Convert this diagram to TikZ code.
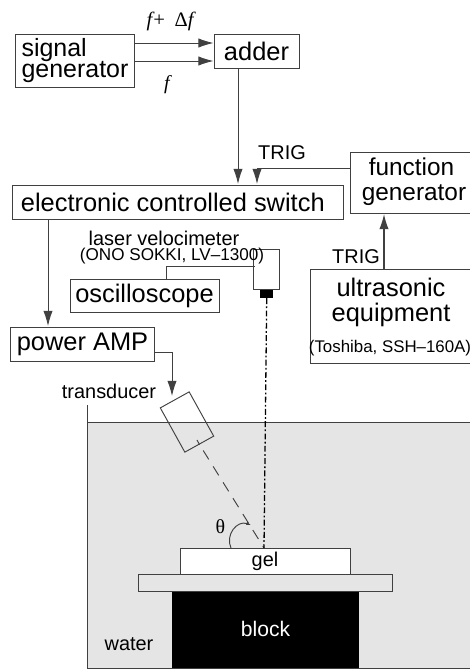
\documentclass[tikz,border=0pt]{standalone}
\usepackage{fontspec}
\setmainfont{Liberation Sans}
\newfontfamily\serifgreek{Liberation Serif}
\usetikzlibrary{arrows.meta,calc}
\newcommand\bigtext{\fontsize{21.7}{22}\selectfont}
\newcommand\tighttext{\fontsize{21.3}{18.5}\selectfont}
\newcommand\midtext{\fontsize{17}{18}\selectfont}
\newcommand\smalltext{\fontsize{14.4}{15}\selectfont}
\definecolor{linegray}{gray}{0.25}
\definecolor{watergray}{gray}{0.9}
\tikzset{
  panel/.style={draw=linegray,line width=0.8pt,inner sep=0pt,align=center,font=\bigtext},
  caption/.style={inner sep=0pt,font=\midtext},
  wire/.style={draw=linegray,line width=0.8pt},
  sig/.style={wire,-{Latex[length=13pt,width=8pt]}}
}
\begin{document}
\begin{tikzpicture}[x=0.3mm,y=-0.3mm]
\useasboundingbox (0,0) rectangle (470,669);
\fill[watergray] (87,422) rectangle (480,668);
\draw[wire] (87,405) -- (87,668) -- (480,668);
\draw[wire] (87,422) -- (480,422);
\node[panel,minimum width=119*0.3mm,minimum height=53*0.3mm,align=left,font=\tighttext] (siggen) at (75,60.5) {signal\\generator};
\node[panel,minimum width=85*0.3mm,minimum height=34*0.3mm] (adder) at (256.5,51) {adder};
\node[panel,minimum width=331*0.3mm,minimum height=34*0.3mm] (switch) at (177.5,202) {electronic controlled switch\kern 8pt};
\node[panel,minimum width=130*0.3mm,minimum height=61*0.3mm] (funcgen) at (415,182.5) {};
\node[inner sep=0pt,font=\fontsize{20.8}{22}\selectfont] (funcone) at (411.5,167) {function};
\node[inner sep=0pt,font=\fontsize{20.8}{22}\selectfont] (functwo) at (414,195) {generator};
\node[panel,minimum width=149*0.3mm,minimum height=32.5*0.3mm] (scope) at (144.5,296) {oscilloscope};
\node[panel,minimum width=144*0.3mm,minimum height=34*0.3mm] (amp) at (82.5,344) {power AMP};
\node[panel,minimum width=170*0.3mm,minimum height=93.5*0.3mm] (ultra) at (395,316.5) {};
\node[inner sep=0pt,font=\bigtext] (ultraone) at (391,287) {ultrasonic};
\node[inner sep=0pt,font=\bigtext] (ultratwo) at (391,315) {equipment};
\node[inner sep=0pt,font=\smalltext] (ultrathree) at (390,348) {(Toshiba, SSH--160A)};
\node[panel,minimum width=26.5*0.3mm,minimum height=40.5*0.3mm] (laser) at (266.7,269.7) {};
\node[fill=black,inner sep=0pt,minimum width=13.5*0.3mm,minimum height=8*0.3mm] (tip) at (266.7,294) {};
\node[caption] (lasername) at (164,238) {laser velocimeter};
\node[inner sep=0pt,font=\fontsize{14.6}{16}\selectfont] (lasermodel) at (172,256) {(ONO SOKKI, LV--1300)};
\node[caption] (trigone) at (282,153) {TRIG};
\node[caption] (trigtwo) at (356,257) {TRIG};
\node[caption] (xducername) at (109,391) {transducer};
\node[inner sep=0pt,font=\serifgreek\fontsize{17.5}{18}\selectfont\itshape] (fplus) at (170,21) {f+ \,{\upshape Δ}f};
\node[inner sep=0pt,font=\serifgreek\fontsize{17}{18}\selectfont\itshape] (fplain) at (167,85) {f};
\node[draw=linegray,line width=0.8pt,rotate=29,inner sep=0pt,minimum width=33*0.3mm,minimum height=50.6*0.3mm] (xducer) at (187,422) {};
\node[draw=linegray,line width=0.8pt,fill=white,inner sep=0pt,minimum width=170*0.3mm,minimum height=25.5*0.3mm,font=\midtext] (gel) at (265,561.7) {gel};
\node[draw=linegray,line width=0.8pt,inner sep=0pt,minimum width=254*0.3mm,minimum height=17.5*0.3mm] (plate) at (265,583.2) {};
\node[fill=black,text=white,inner sep=0pt,minimum width=187*0.3mm,minimum height=76*0.3mm,font=\fontsize{18}{19}\selectfont] (block) at (265.5,630) {\raisebox{2.5pt}{block}};
\node[caption] (water) at (129,644) {water};
\node[inner sep=0pt,font=\serifgreek\fontsize{17}{18}\selectfont] (theta) at (220.5,527) {θ};
\coordinate (spot) at (264,548);
\coordinate (xducertip) at (172,396);
\draw[sig] (siggen.east |- 0,43) -- (adder.west |- 0,43);
\draw[sig] (siggen.east |- 0,61) -- (adder.west |- 0,61);
\draw[sig] (238,68) -- (238,184);
\draw[sig] (funcgen.west |- 0,168) -- (257,168) -- (257,184);
\draw[sig] (48,219) -- (48,326);
\draw[sig] (amp.east |- 0,352) -| (xducertip);
\draw[sig,line width=1.1pt] (384,269) -- (384,214);
\draw[wire] (166,279) |- (255,266);
\draw[wire] (xducer.south) -- ($(xducer.south)!0.2!(xducer.center)$);
\draw[wire,dash pattern=on 9pt off 7pt,shorten <=6pt] (xducer.south) -- (spot);
\draw[black,line width=1.1pt,dash pattern=on 5pt off 2pt on 1.5pt off 2pt] (tip.south) -- (spot);
\draw[wire,-{Latex[length=4pt,width=3pt]}] (231,548) .. controls (225,535) and (237,520) .. (251,525);
\end{tikzpicture}
\end{document}
